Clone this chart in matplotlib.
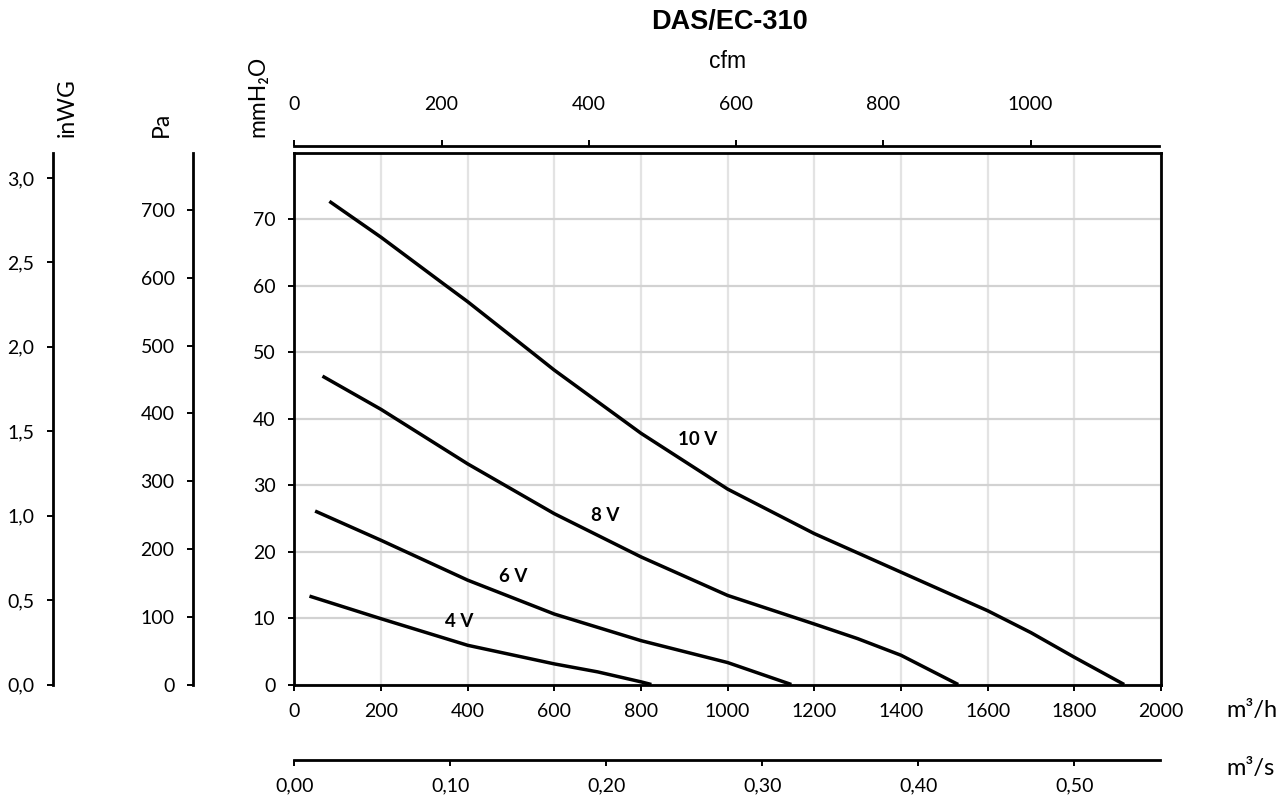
import numpy as np
import matplotlib
matplotlib.use("Agg")
import matplotlib.pyplot as plt

# ---------------- data ----------------
q_10v = [81, 200, 344, 400, 540, 600, 800, 1000, 1200, 1400, 1600, 1700, 1800, 1915]
p_10v = [72.7, 67.3, 60.3, 57.6, 50.4, 47.3, 37.8, 29.4, 22.7, 16.9, 11.1, 7.8, 4.1, 0.0]

q_8v = [65, 200, 400, 600, 800, 1000, 1200, 1300, 1400, 1532]
p_8v = [46.4, 41.4, 33.2, 25.7, 19.2, 13.4, 9.1, 6.9, 4.4, 0.0]

q_6v = [48, 200, 400, 600, 800, 1000, 1147]
p_6v = [26.1, 21.7, 15.7, 10.6, 6.6, 3.3, 0.0]

q_4v = [35, 200, 400, 600, 700, 800, 824]
p_4v = [13.3, 9.9, 5.9, 3.1, 1.9, 0.4, 0.0]

curve_labels = ["10 V", "8 V", "6 V", "4 V"]
label_q = [930, 717, 504, 381]
label_p = [36.8, 25.5, 16.2, 9.5]

title = "DAS/EC-310"
x_ticks_m3h = list(range(0, 2001, 200))
y_ticks_mm = list(range(0, 71, 10))
y_ticks_pa = list(range(0, 701, 100))
y_ticks_inwg = [0.0, 0.5, 1.0, 1.5, 2.0, 2.5, 3.0]
x_ticks_cfm = list(range(0, 1001, 200))
x_ticks_m3s = [0.0, 0.1, 0.2, 0.3, 0.4, 0.5]

# unit conversions
M3H_PER_CFM = 1.69901
PA_PER_MM = 9.80665
MM_PER_INWG = 25.4

# ---------------- layout ----------------
W, H = 1278, 796
fig = plt.figure(figsize=(W / 100, H / 100), dpi=100)

def fx(px):
    return px / W

def fy(py):
    return 1 - py / H

TICK_FONT = ["Lato", "DejaVu Sans"]
TS = 14
left_px, right_px, top_px, bot_px = 294.3, 1161, 152.8, 684.5
ax_l = fx(left_px)
ax_w = fx(right_px) - fx(left_px)
ax_b = fy(bot_px)
ax_h = fy(top_px) - fy(bot_px)

ax = fig.add_axes([ax_l, ax_b, ax_w, ax_h])
ax.set_xlim(0, 2000)
ax.set_ylim(0, 80)
ax.set_xticks(x_ticks_m3h)
ax.set_yticks(y_ticks_mm)
ax.xaxis.grid(True, color="#e3e3e3", lw=1.6)
ax.yaxis.grid(True, color="#d2d2d2", lw=1.6)
ax.set_axisbelow(True)
for s in ax.spines.values():
    s.set_color("black")
    s.set_linewidth(2.0)
ax.tick_params(axis="both", direction="out", length=4.5, width=1.4, colors="black",
               labelsize=TS, pad=9)
for lab in ax.get_xticklabels() + ax.get_yticklabels():
    lab.set_family(TICK_FONT)

lw = 2.5
for q, p in [(q_10v, p_10v), (q_8v, p_8v), (q_6v, p_6v), (q_4v, p_4v)]:
    ax.plot(q, p, color="black", lw=lw, solid_capstyle="butt", solid_joinstyle="round")

for t, xq, yp in zip(curve_labels, label_q, label_p):
    ax.text(xq, yp, t, ha="center", va="center", fontsize=13.5, fontweight="bold",
            family=TICK_FONT)

# ---------------- left auxiliary axes ----------------
def side_axis(xpx, ymax, ticks, fmt):
    a = fig.add_axes([fx(xpx), ax_b, 0.0005, ax_h])
    a.patch.set_visible(False)
    for k in ("top", "right", "bottom"):
        a.spines[k].set_visible(False)
    a.spines["left"].set_linewidth(2.0)
    a.set_ylim(0, ymax)
    a.set_xticks([])
    a.set_yticks(ticks)
    a.set_yticklabels([fmt(v) for v in ticks])
    a.tick_params(axis="y", direction="out", length=4.5, width=1.4, labelsize=TS, pad=9)
    for lab in a.get_yticklabels():
        lab.set_family(TICK_FONT)
    return a

side_axis(53.3, 80 / MM_PER_INWG, y_ticks_inwg, lambda v: f"{v:.1f}".replace(".", ","))
side_axis(193.3, 80 * PA_PER_MM, y_ticks_pa, lambda v: f"{v:d}")

# axis unit labels (rotated)
for xpx, txt in [(67, "inWG"), (161, "Pa"), (258, "mmH₂O")]:
    fig.text(fx(xpx), fy(137), txt, rotation=90, ha="center", va="bottom",
             fontsize=16.5, family=TICK_FONT)

# ---------------- top cfm axis ----------------
axc = fig.add_axes([ax_l, fy(146), ax_w, 0.0001])
axc.patch.set_visible(False)
for k in ("left", "right", "bottom"):
    axc.spines[k].set_visible(False)
axc.spines["top"].set_linewidth(2.0)
axc.set_xlim(0, 2000 / M3H_PER_CFM)
axc.spines["top"].set_bounds(0, 1995 / M3H_PER_CFM)
axc.set_yticks([])
axc.xaxis.tick_top()
axc.set_xticks(x_ticks_cfm)
axc.tick_params(axis="x", direction="out", length=4.5, width=1.4, labelsize=TS, pad=19.5)
for lab in axc.get_xticklabels():
    lab.set_family(TICK_FONT)

# ---------------- bottom m3/s axis ----------------
axs = fig.add_axes([ax_l, fy(760), ax_w, 0.0001])
axs.patch.set_visible(False)
for k in ("left", "right", "top"):
    axs.spines[k].set_visible(False)
axs.spines["bottom"].set_linewidth(2.0)
axs.set_xlim(0, 2000 / 3600)
axs.spines["bottom"].set_bounds(0, 1997 / 3600)
axs.set_yticks([])
axs.set_xticks(x_ticks_m3s)
axs.set_xticklabels([f"{v:.2f}".replace(".", ",") for v in x_ticks_m3s])
axs.tick_params(axis="x", direction="out", length=4.5, width=1.4, labelsize=TS, pad=8)
for lab in axs.get_xticklabels():
    lab.set_family(TICK_FONT)

# ---------------- texts ----------------
fig.text(fx(729.5), fy(22), title, ha="center", va="center", fontsize=19.5,
         fontweight="bold", family=["Liberation Sans", "DejaVu Sans"])
fig.text(fx(727.5), fy(61), "cfm", ha="center", va="center", fontsize=16.5,
         family=["Liberation Sans", "DejaVu Sans"])
fig.text(fx(1226), fy(711), "m³/h", ha="left", va="center", fontsize=17, family=TICK_FONT)
fig.text(fx(1226), fy(768), "m³/s", ha="left", va="center", fontsize=17, family=TICK_FONT)

fig.savefig("out.png", dpi=100)
